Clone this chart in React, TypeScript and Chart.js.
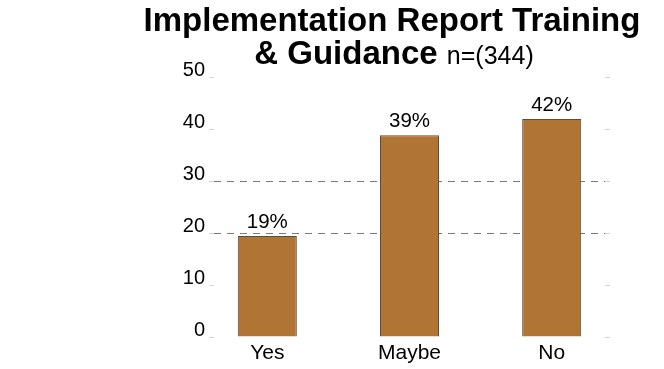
import { useEffect, useRef } from 'react';
import { Chart, registerables } from 'chart.js';

Chart.register(...registerables);

const categories = ['Yes', 'Maybe', 'No'];
const values = [19.4, 38.8, 41.9];
const yTickValues = [0, 10, 20, 30, 40, 50];
const dashedGridValues = [20, 30];
const titleLine1 = 'Implementation Report Training';
const titleLine2Bold = '& Guidance';
const titleLine2Normal = 'n=(344)';

const FONT = '"Liberation Sans", Arial, sans-serif';

const titlePlugin = {
  id: 'customTitle',
  afterDraw(chart: any) {
    const ctx = chart.ctx;
    ctx.save();
    ctx.fillStyle = '#000';
    ctx.textBaseline = 'alphabetic';
    ctx.font = `bold 33px ${FONT}`;
    ctx.textAlign = 'center';
    ctx.fillText(titleLine1, 392, 31);
    const boldText = titleLine2Bold + ' ';
    const w1 = ctx.measureText(boldText).width;
    ctx.font = `25px ${FONT}`;
    const w2 = ctx.measureText(titleLine2Normal).width;
    const start = 394 - (w1 + w2) / 2;
    ctx.textAlign = 'left';
    ctx.font = `bold 33px ${FONT}`;
    ctx.fillText(boldText, start, 64);
    ctx.font = `25px ${FONT}`;
    ctx.fillText(titleLine2Normal, start + w1, 64);
    ctx.restore();
  },
};

const yLabelPlugin = {
  id: 'yLabels',
  afterDraw(chart: any) {
    const ctx = chart.ctx;
    const scale = chart.scales.y;
    ctx.save();
    ctx.fillStyle = '#000';
    ctx.font = `20px ${FONT}`;
    ctx.textAlign = 'right';
    ctx.textBaseline = 'alphabetic';
    yTickValues.forEach((v) => {
      ctx.fillText(String(v), chart.chartArea.left - 9, scale.getPixelForValue(v) - 1);
    });
    ctx.restore();
  },
};

const valueLabelPlugin = {
  id: 'valueLabels',
  afterDatasetsDraw(chart: any) {
    const ctx = chart.ctx;
    const meta = chart.getDatasetMeta(0);
    ctx.save();
    ctx.fillStyle = '#000';
    ctx.font = `20.5px ${FONT}`;
    ctx.textAlign = 'center';
    ctx.textBaseline = 'alphabetic';
    meta.data.forEach((bar: any, i: number) => {
      ctx.fillText(Math.round(values[i]) + '%', bar.x, bar.y - 8);
    });
    ctx.restore();
  },
};

export default function App() {
  const ref = useRef<HTMLCanvasElement | null>(null);

  useEffect(() => {
    if (!ref.current) return;
    const chart = new Chart(ref.current, {
      type: 'bar',
      data: {
        datasets: [
          {
            data: values.map((v, i) => ({ x: i, y: v })),
            backgroundColor: '#B07535',
            borderColor: '#5E4C3A',
            borderWidth: 1,
            categoryPercentage: 1,
            barPercentage: 0.415,
          } as any,
        ],
      },
      options: {
        animation: false,
        responsive: false,
        maintainAspectRatio: false,
        layout: { padding: { top: 77, left: 0, right: 0, bottom: 0 } },
        plugins: {
          legend: { display: false },
          tooltip: { enabled: false },
          title: { display: false },
        },
        scales: {
          x: {
            type: 'linear',
            min: -0.375,
            max: 2.375,
            offset: false,
            grid: { display: false, drawTicks: false, offset: false },
            border: { display: false },
            afterBuildTicks: (s: any) => {
              s.ticks = categories.map((_, i) => ({ value: i }));
            },
            afterFit: (s: any) => {
              s.height = 32;
            },
            ticks: {
              callback: (v: any) => categories[v] ?? '',
              color: '#000',
              font: { family: FONT, size: 21 },
              padding: 4,
              autoSkip: false,
              maxRotation: 0,
            },
          },
          y: {
            position: 'left',
            min: 0,
            max: 50,
            afterBuildTicks: (s: any) => {
              s.ticks = yTickValues.map((v) => ({ value: v }));
            },
            afterFit: (s: any) => {
              s.width = 214;
            },
            grid: {
              color: (c: any) =>
                dashedGridValues.includes(c.tick?.value) ? '#7a7a7a' : 'rgba(0,0,0,0)',
              lineWidth: 1,
              drawTicks: true,
              tickLength: 5,
              tickColor: '#d4d4d4',
            },
            border: { display: false, dash: [7, 6] },
            ticks: { display: false },
          },
          y2: {
            position: 'right',
            min: 0,
            max: 50,
            afterBuildTicks: (s: any) => {
              s.ticks = yTickValues.map((v) => ({ value: v }));
            },
            afterFit: (s: any) => {
              s.width = 59;
            },
            grid: {
              drawOnChartArea: false,
              drawTicks: true,
              tickLength: 5,
              tickColor: '#d4d4d4',
              color: 'rgba(0,0,0,0)',
            },
            border: { display: false },
            ticks: { display: false },
          },
        },
      } as any,
      plugins: [titlePlugin, yLabelPlugin, valueLabelPlugin],
    });
    return () => chart.destroy();
  }, []);

  return (
    <div style={{ position: 'fixed', left: 0, top: 0, width: 664, height: 369, background: '#fff' }}>
      <canvas ref={ref} width={664} height={369} style={{ width: 664, height: 369 }} />
    </div>
  );
}
